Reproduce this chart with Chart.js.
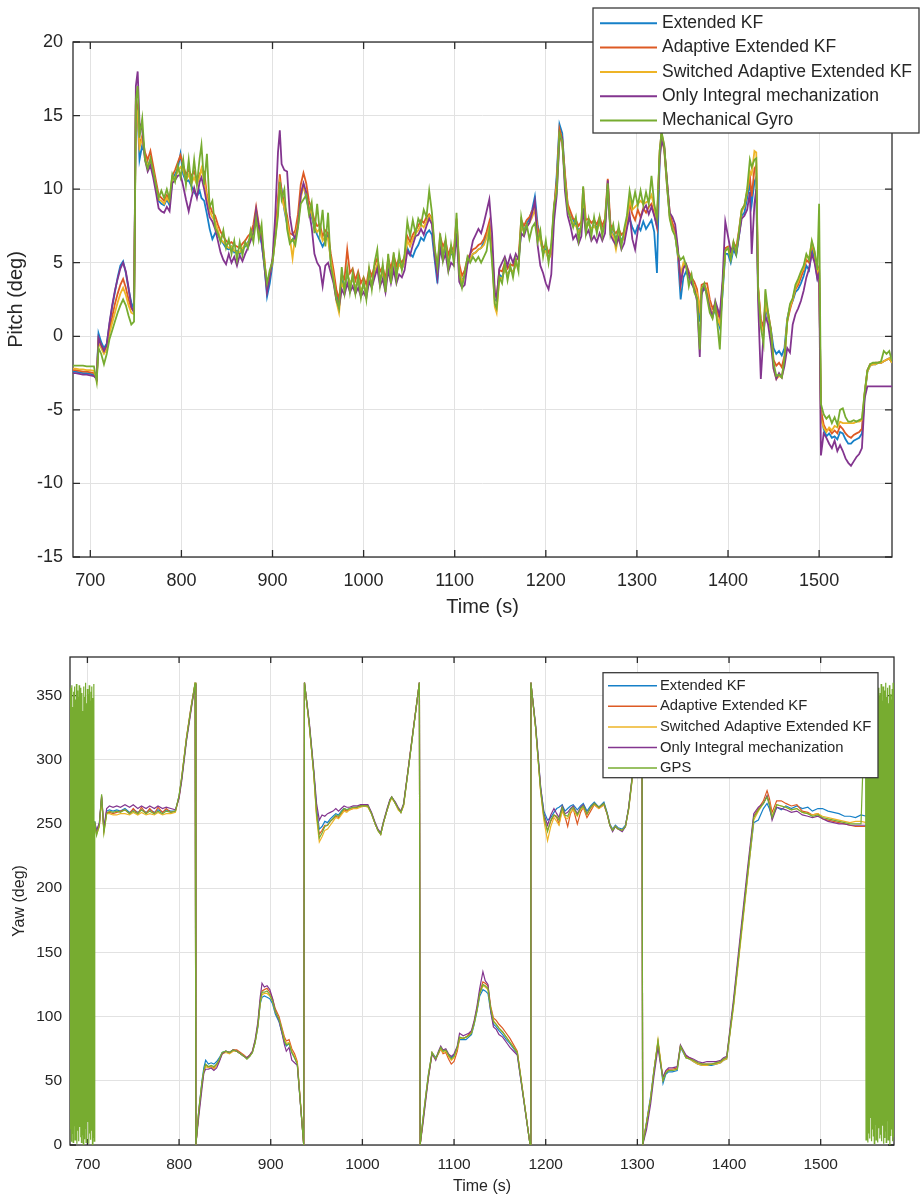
<!DOCTYPE html>
<html>
<head>
<meta charset="utf-8">
<title>Pitch and Yaw estimates</title>
<script src="https://cdn.jsdelivr.net/npm/chart.js@4.4.1/dist/chart.umd.min.js"></script>
<style>
  html, body { margin: 0; padding: 0; background: #ffffff; }
  body { width: 920px; height: 1199px; position: relative; overflow: hidden; }
  #pitchChart { position: absolute; left: 0; top: 0; }
  #yawChart { position: absolute; left: 0; top: 625px; }
  #warn { position: absolute; left: 4px; bottom: 2px; color: red; font: 11px sans-serif; }
</style>
</head>
<body>
<canvas id="pitchChart" width="920" height="625"></canvas>
<canvas id="yawChart" width="920" height="574"></canvas>
<div id="warn"></div>
<script>
// ---------------- DATA ----------------
const seriesNamesPitch = ['Extended KF', 'Adaptive Extended KF', 'Switched Adaptive Extended KF', 'Only Integral mechanization', 'Mechanical Gyro'];
const seriesNamesYaw = ['Extended KF', 'Adaptive Extended KF', 'Switched Adaptive Extended KF', 'Only Integral mechanization', 'GPS'];

const xTickValues = [700, 800, 900, 1000, 1100, 1200, 1300, 1400, 1500];
const pitchTickValues = [-15, -10, -5, 0, 5, 10, 15, 20];
const yawTickValues = [0, 50, 100, 150, 200, 250, 300, 350];

// Pitch (deg) vs time (s)
const pitchTime = [
  680,684,688,692,696,700,704,707,709,712,715,718,721,724,727,730,733,736,739,742,745,748,
  750,752,754,757,760,763,766,769,772,775,778,781,784,787,
  790,793,796,799,802,805,808,811,814,817,820,822,825,
  828,831,834,837,840,843,846,849,
  852,855,858,861,864,867,870,873,876,879,882,885,888,891,894,897,900,
  903,906,908,910,913,916,919,922,925,928,931,934,937,940,943,946,949,
  952,955,958,961,964,967,970,973,976,979,982,985,988,991,994,997,1000,
  1003,1006,1009,1012,1015,1018,1021,1024,1027,1030,1033,1036,1039,1042,1045,
  1048,1051,1054,1057,1060,1063,1066,1069,1072,1075,1078,1081,1084,1087,1090,1093,1096,1099,
  1102,1105,1108,1111,1114,1117,1120,1123,1126,1129,1132,1135,1138,1141,
  1144,1146,1149,1152,1155,1158,1161,1164,1167,1170,
  1173,1176,1179,1182,1185,1188,1191,1194,1197,1200,1203,1206,
  1209,1212,1215,1218,1221,1224,1227,1230,1233,1236,1239,
  1241,1244,1247,1250,1253,1256,1259,1262,1265,1268,
  1271,1274,1277,1280,1283,1286,1289,1292,1295,1298,1301,1304,1307,1310,1313,1316,1319,1322,
  1325,1327,1330,1333,1336,1339,1342,1345,1348,1351,1354,1357,1360,1363,1366,1369,
  1371,1374,1377,1380,1383,1386,1389,1391,1394,1397,1400,
  1403,1406,1409,1412,1415,1418,1421,1424,1426,1429,1431,
  1433,1436,1439,1441,1444,1447,1450,1453,1456,1459,1462,
  1465,1468,1471,1474,1477,1480,1483,1486,1489,1492,1495,1498,1500,
  1502,1505,1508,1511,1514,1517,1520,1523,1526,1529,1532,1535,1538,1541,1544,1547,
  1550,1553,1556,1559,1562,1565,1568,1571,1574,1577,1580
];
const pitchEKF = [
  -2.4,-2.4,-2.45,-2.5,-2.5,-2.55,-2.6,-2.9,0.2,-0.4,-0.8,-0.5,0.8,2.0,3.0,4.0,4.8,5.1,4.3,3.2,2.3,1.8,
  15.8,15.0,12.0,13.0,12.3,11.8,11.5,11.3,10.1,9.2,9.0,8.9,9.3,8.9,
  10.6,11.0,11.4,12.4,11.0,10.5,10.6,10.2,9.8,9.5,9.9,9.4,9.2,
  8.3,7.3,6.6,7.0,6.9,6.6,6.3,6.0,
  5.9,6.1,5.7,5.8,5.6,5.9,6.1,6.4,6.7,7.3,8.5,7.1,6.3,4.9,2.7,3.6,4.9,
  6.9,8.9,10.6,10.0,8.6,7.6,6.6,6.5,6.8,7.8,9.6,10.3,9.4,8.6,8.1,7.4,6.9,
  6.5,6.1,6.5,6.9,5.1,4.1,3.0,2.2,3.8,3.4,4.2,3.6,3.9,3.3,3.7,3.1,3.4,
  3.0,4.0,3.6,4.3,4.8,3.9,4.3,3.4,4.9,4.0,5.1,4.4,5.0,4.6,5.1,
  6.0,5.6,5.4,5.9,6.2,6.7,6.5,7.0,7.2,6.9,5.2,3.6,6.2,5.5,6.0,5.0,5.7,5.4,
  7.6,4.5,3.8,4.1,5.0,5.3,5.6,5.7,5.9,6.0,6.4,6.9,7.6,5.6,
  2.5,2.4,4.2,4.0,4.6,4.2,4.5,4.4,4.9,4.8,
  7.4,7.2,7.6,8.0,8.6,9.5,7.6,6.6,5.6,5.9,5.3,5.8,
  8.5,11.0,14.4,13.8,10.9,8.9,8.2,7.9,7.6,7.2,7.4,
  9.4,7.5,7.7,7.3,7.5,7.4,7.7,7.2,7.6,9.9,
  7.3,6.9,6.7,7.0,6.5,6.8,7.5,8.0,7.4,7.0,7.5,7.2,7.8,7.3,7.6,7.9,7.1,4.3,
  12.2,13.6,12.8,10.2,8.2,7.4,6.9,5.4,2.5,4.0,4.4,4.0,3.6,3.3,2.8,1.0,
  3.0,3.2,3.0,2.0,1.4,1.8,1.0,0.6,2.9,5.6,5.6,
  5.0,5.9,5.5,6.8,8.2,8.4,9.4,10.4,9.0,10.5,10.8,
  3.2,1.0,0.8,2.0,1.2,0.5,-0.8,-1.2,-1.0,-1.3,-0.8,
  1.2,2.0,2.4,3.0,3.2,3.6,4.1,4.8,4.5,5.9,5.3,4.0,4.6,
  -5.2,-6.3,-6.8,-6.6,-6.9,-6.8,-7.0,-6.5,-6.6,-7.0,-7.3,-7.3,-7.1,-7.0,-6.9,-6.6,
  -4.0,-2.4,-2.0,-1.9,-1.9,-1.8,-1.8,-1.7,-1.6,-1.5,-1.8
];
const pitchAEKF = [
  -2.3,-2.3,-2.35,-2.4,-2.4,-2.45,-2.5,-2.9,-0.2,-0.6,-1.0,-0.7,0.5,1.3,2.2,2.9,3.5,3.9,3.3,2.5,1.9,1.7,
  16.2,15.5,13.0,13.6,12.5,12.0,12.6,11.6,10.6,9.6,9.4,9.2,9.6,9.2,
  10.9,11.3,11.8,12.3,11.6,11.0,11.3,10.9,11.2,10.6,11.0,11.3,11.2,
  9.6,8.9,8.4,8.2,7.6,7.1,6.8,6.5,
  6.3,6.4,6.2,6.1,6.0,6.3,6.5,6.8,7.0,7.6,8.8,7.6,6.9,5.3,3.2,4.2,5.2,
  7.0,9.3,11.0,9.8,9.0,8.2,7.0,6.9,7.2,8.3,10.3,11.1,10.4,9.2,8.6,7.9,7.5,
  7.6,6.8,7.2,7.0,5.6,4.5,3.2,2.5,4.2,3.9,5.9,4.3,4.6,3.8,4.4,3.6,4.0,
  3.5,4.6,4.1,4.8,5.3,4.4,4.7,3.9,5.3,4.6,5.5,4.8,5.3,5.0,5.4,
  6.8,6.4,6.9,7.2,7.5,7.9,7.7,8.1,8.3,8.0,5.9,4.6,6.8,6.1,6.5,5.5,6.1,5.8,
  8.0,4.9,4.1,4.5,5.3,5.6,5.9,6.0,6.2,6.3,6.6,7.1,7.8,6.0,
  2.8,2.6,4.5,4.4,5.0,4.6,4.9,4.8,5.2,5.3,
  7.9,7.5,7.9,8.1,8.5,8.9,7.4,6.8,6.0,6.2,5.7,6.0,
  8.8,10.6,14.1,13.4,11.1,9.0,8.5,8.0,7.9,7.5,7.8,
  10.1,7.9,8.0,7.7,7.9,7.6,8.1,7.5,8.0,10.7,
  7.6,7.2,7.0,7.3,6.9,7.1,7.9,9.0,8.3,7.9,8.6,8.1,8.7,8.4,8.8,9.0,8.3,7.4,
  12.6,13.8,12.9,10.5,8.4,7.7,7.2,5.8,3.5,4.8,4.9,4.4,4.0,3.7,3.2,1.6,
  3.5,3.6,3.6,2.5,1.9,2.2,1.5,1.2,3.4,6.0,6.1,
  5.5,6.4,6.0,7.2,8.6,8.9,9.8,10.9,9.5,11.4,11.6,
  3.4,1.2,0.5,2.6,1.6,0.5,-1.6,-2.0,-1.8,-2.1,-1.3,
  1.0,1.8,2.5,3.2,3.5,4.0,4.5,5.2,5.0,6.2,5.6,4.3,4.7,
  -5.0,-6.0,-6.4,-6.3,-6.6,-6.4,-6.6,-6.1,-6.3,-6.6,-6.8,-6.9,-6.7,-6.6,-6.5,-6.3,
  -3.9,-2.3,-1.9,-1.9,-1.8,-1.8,-1.8,-1.7,-1.6,-1.5,-1.8
];
const pitchSAEKF = [
  -2.2,-2.2,-2.25,-2.25,-2.3,-2.3,-2.35,-3.0,-0.4,-0.8,-1.2,-0.9,0.2,0.9,1.6,2.3,2.9,3.3,2.8,2.1,1.6,1.5,
  15.5,15.2,12.8,13.5,12.2,11.6,11.8,11.2,10.2,9.3,9.2,9.0,9.4,9.1,
  10.7,10.8,11.2,11.5,11.3,10.6,11.0,10.4,10.8,10.3,10.8,11.4,10.6,
  9.4,8.5,8.1,7.8,7.2,6.6,6.4,6.2,
  6.0,6.1,5.8,5.7,5.7,6.0,6.2,6.3,6.8,7.1,8.3,7.0,6.6,5.2,3.3,4.2,5.0,
  6.6,8.6,10.4,9.5,8.7,7.8,6.7,5.3,6.9,7.7,9.4,10.2,9.6,8.8,8.3,7.5,7.1,
  7.3,6.5,6.8,6.6,5.2,4.0,2.4,1.6,3.6,3.2,4.4,3.5,4.0,3.2,3.9,3.0,3.5,
  2.9,4.1,3.6,4.3,4.9,3.9,4.3,3.3,4.9,4.1,5.1,4.3,4.9,4.6,5.0,
  6.5,6.1,6.6,7.0,7.2,7.6,7.4,7.8,8.2,7.9,5.7,4.3,6.5,5.7,6.2,5.1,5.8,5.5,
  7.6,4.5,3.7,4.1,5.0,5.3,5.6,5.7,5.9,6.0,6.2,6.7,7.4,5.5,
  2.0,1.6,4.0,3.9,4.6,4.2,4.5,4.4,4.8,4.9,
  7.6,7.1,7.5,7.7,8.1,8.6,7.0,6.5,5.7,5.8,5.2,5.6,
  8.4,10.2,13.6,13.1,10.6,8.7,8.1,7.6,7.5,7.1,7.4,
  9.6,7.5,7.6,7.3,7.5,7.2,7.7,7.1,7.6,10.2,
  7.2,6.8,5.9,6.9,6.4,6.7,7.8,9.3,8.6,8.8,9.0,9.2,9.0,9.1,9.2,9.6,8.8,7.7,
  12.4,13.5,12.6,10.2,8.1,7.3,6.9,5.5,4.2,5.0,4.7,4.1,3.8,3.4,2.9,1.8,
  3.3,3.4,3.2,2.1,1.5,1.9,1.1,0.8,3.3,5.8,6.0,
  5.3,6.2,5.8,7.0,8.5,8.8,9.9,11.2,11.0,12.6,12.5,
  3.4,0.8,0.3,2.2,1.4,0.3,-2.2,-2.9,-2.7,-2.8,-1.6,
  1.1,2.0,2.5,3.3,3.7,4.3,4.6,5.5,5.3,6.4,5.7,4.4,4.6,
  -5.6,-6.2,-6.5,-6.2,-6.4,-6.1,-6.2,-5.8,-5.9,-5.9,-5.9,-5.9,-5.9,-5.8,-5.8,-5.7,
  -3.9,-2.4,-2.0,-1.9,-1.9,-1.8,-1.8,-1.7,-1.6,-1.5,-1.8
];
const pitchIntegral = [
  -2.5,-2.5,-2.55,-2.6,-2.6,-2.65,-2.7,-2.9,-0.1,-0.6,-1.0,-0.6,0.9,2.1,3.1,3.9,4.6,5.0,4.4,3.3,2.0,1.6,
  17.0,18.0,14.5,14.0,12.0,11.2,11.6,10.8,9.8,8.7,8.5,8.4,8.8,8.5,
  10.4,10.6,10.9,11.0,10.2,9.3,8.5,9.4,10.1,9.4,10.5,10.8,10.0,
  9.0,8.1,7.8,7.3,6.5,5.7,5.2,4.9,
  5.6,5.0,5.4,4.8,5.5,5.1,5.6,6.0,6.5,7.0,8.6,7.4,6.5,4.8,3.0,4.0,5.3,
  8.2,12.5,14.0,11.7,11.3,11.2,8.2,7.0,6.6,7.5,9.6,10.4,9.8,8.5,7.4,5.6,5.0,
  4.7,3.4,4.8,5.0,4.3,3.6,2.5,2.0,3.2,2.8,3.6,3.0,3.4,2.9,3.3,2.7,3.0,
  2.6,3.7,3.3,4.0,4.6,3.4,3.9,3.0,4.5,3.6,4.5,3.6,4.2,4.0,4.5,
  5.8,5.5,6.2,6.8,6.9,7.3,6.9,7.5,8.0,7.6,5.5,4.0,6.0,5.1,5.6,4.4,5.0,4.8,
  7.0,3.7,3.3,3.5,4.9,5.6,6.5,6.9,7.3,7.0,7.7,8.5,9.3,7.0,
  3.0,2.6,4.6,5.0,5.4,4.8,5.5,5.0,5.6,5.2,
  7.0,6.8,7.4,7.7,8.4,9.2,6.2,4.8,4.3,3.6,3.2,4.2,
  7.8,9.6,13.4,13.5,9.9,8.2,7.5,6.6,6.9,6.3,6.8,
  8.7,6.9,7.2,6.5,6.8,6.4,7.0,6.5,7.0,10.6,
  6.9,6.5,6.2,6.7,5.9,6.3,7.3,8.3,6.6,5.9,7.2,8.0,8.6,8.9,8.3,8.8,8.2,7.5,
  12.0,13.3,12.8,10.6,8.4,8.1,7.6,6.0,3.6,4.6,4.9,4.2,3.6,3.2,2.4,-1.4,
  2.8,3.5,2.8,1.9,1.3,2.4,1.8,1.4,3.8,7.8,6.8,
  5.8,6.1,5.6,6.8,8.0,8.2,8.6,9.8,5.6,9.0,10.0,
  2.4,-2.9,0.2,1.4,0.8,-0.5,-2.2,-2.9,-2.5,-2.8,-2.0,
  -0.8,-1.1,0.8,1.5,1.9,2.4,3.1,4.0,4.6,5.6,5.0,3.9,4.3,
  -8.1,-6.6,-6.9,-7.3,-7.6,-7.1,-7.8,-7.4,-7.8,-8.3,-8.6,-8.8,-8.5,-8.2,-8.0,-7.6,
  -4.2,-3.4,-3.4,-3.4,-3.4,-3.4,-3.4,-3.4,-3.4,-3.4,-3.4
];
const pitchGyro = [
  -2.0,-2.0,-2.0,-2.0,-2.05,-2.05,-2.05,-3.1,-0.8,-1.2,-1.9,-1.2,-0.2,0.4,1.0,1.6,2.1,2.5,2.1,1.4,0.8,1.0,
  16.0,17.0,13.5,14.8,12.0,11.4,12.1,11.2,10.3,9.4,9.9,9.4,10.0,9.3,
  11.0,10.5,11.6,10.8,12.0,10.3,12.0,10.2,12.0,10.3,12.1,13.0,10.3,
  12.4,8.8,9.2,7.4,7.0,6.4,7.2,6.0,
  6.6,5.6,6.5,5.2,6.4,5.5,6.4,6.0,7.2,6.4,8.0,6.6,7.6,5.0,3.6,4.5,5.1,
  6.6,8.2,10.5,9.3,10.0,7.3,6.3,6.6,6.2,7.4,9.0,9.3,9.6,8.3,9.1,7.0,9.0,
  7.0,8.6,6.1,8.4,4.8,3.8,2.6,1.9,4.7,3.0,4.6,3.0,4.3,2.9,4.1,2.6,3.8,
  2.5,4.6,3.2,5.0,5.9,3.5,4.9,3.0,5.6,3.6,5.7,3.9,5.6,4.5,5.6,
  7.8,6.8,7.9,7.0,8.0,7.6,8.6,8.1,9.9,8.4,6.0,4.7,7.0,5.2,6.6,4.6,6.2,5.0,
  8.4,4.2,3.3,4.3,5.4,5.0,5.4,5.1,5.4,5.0,5.4,5.8,7.2,5.0,
  2.2,1.9,4.0,3.6,5.0,3.8,4.8,4.0,5.2,4.4,
  8.1,7.0,7.6,6.6,7.4,7.7,6.4,7.2,5.4,6.5,5.0,6.3,
  8.9,9.8,13.8,13.3,10.5,8.6,8.0,7.4,8.1,6.5,7.6,
  10.2,7.0,8.0,6.8,8.1,7.0,8.1,6.8,7.9,10.4,
  6.9,7.6,6.3,7.5,6.1,7.3,8.2,9.9,8.9,9.8,8.9,9.9,8.9,9.8,9.0,10.9,9.0,8.0,
  12.6,13.9,13.0,10.4,8.0,7.2,6.8,5.6,5.2,5.4,4.8,3.4,4.2,3.0,2.6,-0.9,
  3.2,3.6,2.6,1.6,1.2,2.2,0.4,-0.9,3.2,5.8,6.0,
  5.2,6.4,5.6,7.1,8.6,8.9,10.0,12.0,11.5,12.0,12.1,
  3.2,0.6,-0.5,3.2,1.6,0.4,-1.8,-2.7,-2.6,-2.8,-1.5,
  1.0,2.2,2.6,3.5,3.9,4.4,4.8,5.6,5.2,6.5,5.8,4.5,9.0,
  -4.6,-5.3,-5.6,-5.4,-5.9,-5.5,-6.0,-5.0,-4.9,-5.5,-5.8,-5.8,-5.7,-5.8,-5.7,-5.6,
  -3.8,-2.3,-1.9,-1.8,-1.8,-1.8,-1.7,-1.0,-1.2,-1.0,-1.7
];

// Yaw (deg) vs time (s) - filter estimates
const yawTime = [
  708,710,713,715.5,718,721,724,728,732,736,
  741,746,750,755,759,764,768,773,777,782,
  786,791,796,800,803,808,813,817.6,818.3,821.5,
  825,827,829,832,835,838,841,844,847,851,
  855,859,863,867,871,874,877,880,883,886,
  888.5,890.5,893,896,899,902,905,909,912,915,
  917,920,923,926,929,936,936.8,942,947,950,
  953,956,959,962,965,968,971,974,977,980,
  983,986,990,994,998,1002,1006,1010,1014,1017,
  1020,1023,1027,1030,1032,1036,1039,1042,1045,1050,
  1055,1062.2,1063,1066,1069,1072,1076,1080,1083,1085.5,
  1088,1091,1094,1097,1100,1103.5,1106,1110,1113,1116,
  1119,1122,1125,1128,1131.5,1134,1137,1140,1143,1146,
  1149,1153,1157,1161,1165,1169,1183,1183.8,1189,1194.5,
  1198,1202,1205.5,1209,1212,1214.5,1218,1221,1224,1227,
  1230,1234.5,1238,1241,1245,1249,1253,1258,1263.5,1267,
  1270,1273,1276,1279,1283.5,1287,1290.5,1294.5,1300,1305,
  1305.8,1310,1314.5,1318,1322.5,1325,1328,1331,1334,1338,
  1343.5,1347,1350,1353,1357,1361,1366,1371,1376,1381,
  1386,1391,1394,1397.5,1405,1413,1420,1427,1432,1437.5,
  1441.5,1444,1447,1452,1457,1462,1468,1474,1480,1486,
  1491,1497,1502,1508,1514,1520,1526,1532,1538,1544,
  1550
];
const yawEKF = [
  252,244,250,270,246,260,261,260,261,260,
  262,259,261,259,261,259,261,259,261,259,
  261,260,260,272,286,316,340,360,0,27,
  50,60,66,63,64,63,65,68,72,73,
  72,74,73,71,69,67,69,72,80,92,
  110,115,116,115,114,110,102,96,88,80,
  77,79,72,68,63,0,360,328,290,262,
  246,248,252,251,254,256,258,257,260,262,
  261,262,263,263,264,264,264,258,250,245,
  242,251,261,268,271,266,262,259,265,292,
  320,360,0,20,38,55,72,68,72,76,
  73,74,70,68,70,76,82,82,82,84,
  86,94,104,116,121,120,118,104,94,92,
  89,86,82,79,75,71,0,360,326,278,
  260,253,255,259,262,263,265,260,262,264,
  265,261,264,266,260,264,267,263,267,259,
  250,246,249,247,246,249,262,286,320,360,
  0,18,38,58,80,66,48,55,57,57,
  58,76,72,68,67,65,63,62,62,62,
  63,64,66,67,110,163,208,251,253,262,
  266,262,255,263,261,264,262,264,262,263,
  260,262,262,260,259,258,256,256,255,257,
  256
];
const yawAEKF = [
  250,243,249,271,245,259,259,258,259,260,
  261,258,262,258,263,258,262,258,263,259,
  262,259,260,271,287,317,341,360,0,26,
  48,57,62,61,61,60,63,66,71,73,
  72,74,74,72,70,68,70,73,81,94,
  112,120,121,122,119,114,106,100,92,84,
  81,82,75,71,65,0,360,327,289,258,
  242,245,249,249,252,254,256,255,258,261,
  260,261,262,263,264,264,264,258,250,245,
  242,251,261,268,271,266,262,259,265,293,
  321,360,0,18,36,53,71,67,71,75,
  71,72,67,63,65,73,83,83,84,86,
  88,96,106,119,127,126,124,108,99,97,
  94,91,87,83,78,73,0,360,325,276,
  255,245,252,257,255,250,262,256,248,258,
  262,250,259,263,255,260,265,262,265,258,
  249,245,248,246,245,248,262,287,321,360,
  0,17,36,57,80,67,51,57,59,59,
  60,77,73,69,68,66,64,63,63,63,
  64,65,67,68,111,164,210,256,262,268,
  276,270,259,268,268,266,264,265,260,259,
  257,258,254,253,252,251,250,249,248,248,
  248
];
const yawSAEKF = [
  249,242,248,269,244,258,258,257,257,258,
  258,257,259,257,259,257,258,257,259,257,
  258,258,259,271,286,316,339,360,0,25,
  47,57,61,60,61,59,62,66,71,72,
  71,73,73,71,69,67,69,72,80,93,
  111,117,118,118,116,112,104,98,90,82,
  79,80,73,69,64,0,360,328,288,255,
  236,240,245,246,249,252,255,254,257,260,
  259,261,262,262,263,264,263,258,250,245,
  242,251,261,267,270,266,261,259,264,292,
  320,360,0,19,37,54,72,67,72,75,
  72,73,69,66,68,75,83,83,84,85,
  87,95,105,118,124,123,121,106,97,94,
  91,88,84,80,76,72,0,360,325,275,
  253,237,248,255,252,249,260,255,254,259,
  261,256,261,263,257,262,265,262,265,258,
  249,245,248,246,245,248,261,285,319,360,
  0,17,36,57,82,68,51,57,58,58,
  59,77,73,68,67,65,63,62,62,63,
  63,64,66,67,108,160,206,253,260,266,
  272,267,256,265,264,263,261,262,259,258,
  257,258,256,255,254,253,252,251,252,252,
  251
];
const yawIntegral = [
  251,245,251,272,247,262,264,263,264,263,
  265,263,265,262,264,262,264,262,264,262,
  263,262,261,270,284,314,338,359,0,22,
  44,56,59,59,60,58,60,65,71,73,
  72,74,73,71,69,68,70,73,82,96,
  115,126,123,124,121,114,104,97,88,78,
  73,76,66,64,62,0,360,330,292,266,
  253,257,256,258,259,260,262,260,262,264,
  263,263,264,264,265,265,265,259,251,246,
  243,252,262,269,271,267,263,260,266,293,
  321,360,0,16,34,52,71,66,73,77,
  74,75,71,69,71,77,87,85,86,87,
  89,97,108,122,135,128,125,104,92,90,
  86,84,80,76,73,70,0,360,327,279,
  258,249,257,262,258,255,264,258,259,262,
  264,258,263,265,258,263,266,263,266,258,
  249,244,248,246,244,248,263,288,322,360,
  0,12,32,53,76,64,53,58,60,60,
  61,78,74,70,68,67,65,64,65,65,
  65,66,68,69,114,168,214,258,263,266,
  272,265,253,263,262,261,259,260,257,256,
  255,256,254,252,251,250,250,249,249,249,
  249
];

// GPS yaw: wrap-around noise at start and end, track in between
const gpsStartTime = [
  680,680.5,681,681.5,682,682.5,683,683.5,684,684.5,685,685.5,686,686.5,687,687.5,688,688.5,689,689.5,
  690,690.5,691,691.5,692,692.5,693,693.5,694,694.5,695,695.5,696,696.5,697,697.5,698,698.5,699,699.5,
  700,700.5,701,701.5,702,702.5,703,703.5,704,704.5,705,705.5,706,706.5,707,707.5
];
const gpsStartYaw = [
  350,6,356,12,344,3,358,9,341,2,353,15,357,4,347,10,359,1,354,11,
  349,3,358,14,346,6,356,2,352,8,338,0,357,5,349,13,360,2,344,7,
  355,18,351,1,358,9,346,4,353,11,357,0,348,6,359,3
];
const gpsMidYaw = [
  252,241,249,273,243,258,260,259,260,259,
  261,258,260,258,261,258,260,258,260,258,
  260,259,260,272,287,316,340,360,0,27,
  49,58,63,61,62,61,63,67,72,73,
  72,74,73,71,69,67,69,72,80,93,
  111,119,119,120,117,112,104,98,90,81,
  78,79,72,68,63,0,360,328,289,258,
  239,243,248,249,252,254,257,256,259,262,
  261,262,263,263,264,264,264,258,250,245,
  242,251,261,268,271,266,262,259,265,292,
  320,360,0,19,37,54,72,67,72,76,
  73,74,70,67,69,76,84,83,84,85,
  87,95,105,118,125,124,122,106,96,94,
  91,88,84,80,76,72,0,360,325,276,
  256,244,253,257,256,253,263,257,256,261,
  263,257,262,264,258,263,266,263,266,258,
  249,245,248,246,245,248,262,287,321,360,
  0,17,36,57,81,66,50,56,58,58,
  59,77,73,68,67,66,64,63,63,63,
  64,65,67,68,110,163,209,255,261,266,
  271,265,255,265,264,263,261,262,259,258,
  256,257,255,254,253,252,251,250,250,250
];
const gpsEndTime = [
  1549,1549.5,1550,1550.5,1551,1551.5,1552,1552.5,1553,1553.5,1554,1554.5,1555,1555.5,1556,1556.5,
  1557,1557.5,1558,1558.5,1559,1559.5,1560,1560.5,1561,1561.5,1562,1562.5,1563,1563.5,1564,1564.5,
  1565,1565.5,1566,1566.5,1567,1567.5,1568,1568.5,1569,1569.5,1570,1570.5,1571,1571.5,1572,1572.5,
  1573,1573.5,1574,1574.5,1575,1575.5,1576,1576.5,1577,1577.5,1578,1578.5,1579,1579.5,1580
];
const gpsEndYaw = [
  355,4,358,18,347,2,360,9,342,5,356,21,351,3,359,12,
  345,7,357,1,353,16,348,4,360,10,343,2,356,13,350,5,
  352,8,359,3,346,15,357,1,341,6,354,11,360,2,349,19,
  356,4,344,9,358,0,351,7,347,12,355,3,360,6,350
];

const gpsTime = [...gpsStartTime, ...yawTime.filter(t => t <= 1544), ...gpsEndTime];
const gpsYaw = [...gpsStartYaw, ...gpsMidYaw, ...gpsEndYaw];

// ---------------- STYLE ----------------
const FONT = '"Liberation Sans", Arial, Helvetica, sans-serif';
const colors = ['#1680c8', '#dd5a24', '#eeb426', '#83358f', '#77ac30'];
const TEXT = '#262626';

const warnings = [];
function pts(name, times, values) {
  if (times.length !== values.length) warnings.push(name + ': ' + times.length + ' vs ' + values.length);
  const n = Math.min(times.length, values.length);
  const out = [];
  for (let i = 0; i < n; i++) out.push({ x: times[i], y: values[i] });
  return out;
}

const matlabFrame = {
  id: 'matlabFrame',
  beforeDatasetsDraw(chart, args, o) {
    const { ctx, chartArea: a, scales: { x, y } } = chart;
    ctx.save();
    ctx.strokeStyle = o.color;
    ctx.lineWidth = o.width;
    ctx.strokeRect(a.left, a.top, a.right - a.left, a.bottom - a.top);
    ctx.beginPath();
    x.ticks.forEach(t => {
      const px = x.getPixelForValue(t.value);
      ctx.moveTo(px, a.bottom); ctx.lineTo(px, a.bottom - o.tick);
      ctx.moveTo(px, a.top); ctx.lineTo(px, a.top + o.tick);
    });
    y.ticks.forEach(t => {
      const py = y.getPixelForValue(t.value);
      ctx.moveTo(a.left, py); ctx.lineTo(a.left + o.tick, py);
      ctx.moveTo(a.right, py); ctx.lineTo(a.right - o.tick, py);
    });
    ctx.stroke();
    ctx.restore();
  },
  afterDraw(chart, args, o) {
    const L = o.legend;
    const ctx = chart.ctx;
    ctx.save();
    ctx.fillStyle = '#ffffff';
    ctx.fillRect(L.x, L.y, L.w, L.h);
    ctx.strokeStyle = '#3a3a3a';
    ctx.lineWidth = 1.3;
    ctx.strokeRect(L.x, L.y, L.w, L.h);
    ctx.font = L.fontSize + 'px ' + FONT;
    ctx.textBaseline = 'middle';
    ctx.textAlign = 'left';
    chart.data.datasets.forEach((ds, i) => {
      const yy = L.firstY + i * L.rowH;
      ctx.strokeStyle = ds.borderColor;
      ctx.lineWidth = L.lineW;
      ctx.beginPath();
      ctx.moveTo(L.x0, yy);
      ctx.lineTo(L.x1, yy);
      ctx.stroke();
      ctx.fillStyle = TEXT;
      ctx.fillText(ds.label, L.tx, yy);
    });
    ctx.restore();
  }
};

function makeChart(canvasId, cfg) {
  const datasets = cfg.series.map((s, i) => ({
    label: s.label,
    data: s.data,
    borderColor: colors[i],
    backgroundColor: colors[i],
    borderWidth: cfg.lineWidth,
    pointRadius: 0,
    tension: 0,
    fill: false,
    order: cfg.series.length - 1 - i
  }));
  return new Chart(document.getElementById(canvasId), {
    type: 'line',
    data: { datasets },
    plugins: [matlabFrame],
    options: {
      responsive: false,
      animation: false,
      devicePixelRatio: 1,
      events: [],
      layout: { padding: cfg.padding },
      plugins: {
        legend: { display: false },
        tooltip: { enabled: false },
        matlabFrame: { color: '#2b2b2b', width: 1.3, tick: cfg.tick, legend: cfg.legend }
      },
      scales: {
        x: {
          type: 'linear',
          min: cfg.xMin, max: cfg.xMax,
          afterBuildTicks: s => { s.ticks = xTickValues.map(v => ({ value: v })); },
          afterFit: s => { s.height = cfg.xAxisHeight; },
          grid: { color: '#e2e2e2', lineWidth: 1, drawTicks: false },
          border: { display: false },
          ticks: { color: TEXT, font: { family: FONT, size: cfg.tickFont }, padding: cfg.xTickPad, autoSkip: false, maxRotation: 0, callback: v => String(v) },
          title: { display: true, text: 'Time (s)', color: TEXT, font: { family: FONT, size: cfg.titleFont }, padding: { top: 0, bottom: cfg.xTitlePad } }
        },
        y: {
          type: 'linear',
          min: cfg.yMin, max: cfg.yMax,
          afterBuildTicks: s => { s.ticks = cfg.yTicks.map(v => ({ value: v })); },
          afterFit: s => { s.width = cfg.yAxisWidth; },
          grid: { color: '#e2e2e2', lineWidth: 1, drawTicks: false },
          border: { display: false },
          ticks: { color: TEXT, font: { family: FONT, size: cfg.tickFont }, padding: cfg.yTickPad, autoSkip: false, callback: v => String(v) },
          title: { display: true, text: cfg.yTitle, color: TEXT, font: { family: FONT, size: cfg.titleFont }, padding: { top: cfg.yTitlePad, bottom: 0 } }
        }
      }
    }
  });
}

makeChart('pitchChart', {
  series: [
    { label: seriesNamesPitch[0], data: pts('pitchEKF', pitchTime, pitchEKF) },
    { label: seriesNamesPitch[1], data: pts('pitchAEKF', pitchTime, pitchAEKF) },
    { label: seriesNamesPitch[2], data: pts('pitchSAEKF', pitchTime, pitchSAEKF) },
    { label: seriesNamesPitch[3], data: pts('pitchIntegral', pitchTime, pitchIntegral) },
    { label: seriesNamesPitch[4], data: pts('pitchGyro', pitchTime, pitchGyro) }
  ],
  lineWidth: 1.8,
  padding: { top: 42, right: 28, bottom: 0, left: 0 },
  xMin: 681, xMax: 1580, yMin: -15, yMax: 20, yTicks: pitchTickValues,
  xAxisHeight: 68, yAxisWidth: 73,
  tickFont: 18, titleFont: 20, xTickPad: 13, yTickPad: 10, xTitlePad: 6, yTitlePad: 4,
  yTitle: 'Pitch (deg)', tick: 7,
  legend: { x: 593, y: 8, w: 326, h: 125, firstY: 23.3, rowH: 24.3, x0: 600, x1: 657, tx: 662, fontSize: 17.5, lineW: 2 }
});

makeChart('yawChart', {
  series: [
    { label: seriesNamesYaw[0], data: pts('yawEKF', yawTime, yawEKF) },
    { label: seriesNamesYaw[1], data: pts('yawAEKF', yawTime, yawAEKF) },
    { label: seriesNamesYaw[2], data: pts('yawSAEKF', yawTime, yawSAEKF) },
    { label: seriesNamesYaw[3], data: pts('yawIntegral', yawTime, yawIntegral) },
    { label: seriesNamesYaw[4], data: pts('gpsYaw', gpsTime, gpsYaw) }
  ],
  lineWidth: 1.2,
  padding: { top: 32, right: 26, bottom: 0, left: 0 },
  xMin: 681, xMax: 1580, yMin: 0, yMax: 380, yTicks: yawTickValues,
  xAxisHeight: 54, yAxisWidth: 70,
  tickFont: 15.5, titleFont: 16, xTickPad: 10, yTickPad: 8, xTitlePad: 2.4, yTitlePad: 9.5,
  yTitle: 'Yaw (deg)', tick: 6,
  legend: { x: 603, y: 47.7, w: 275, h: 105, firstY: 60.7, rowH: 20.6, x0: 608, x1: 657, tx: 660, fontSize: 14.8, lineW: 1.5 }
});

if (warnings.length) document.getElementById('warn').textContent = 'Length mismatch: ' + warnings.join('; ');
</script>
</body>
</html>
